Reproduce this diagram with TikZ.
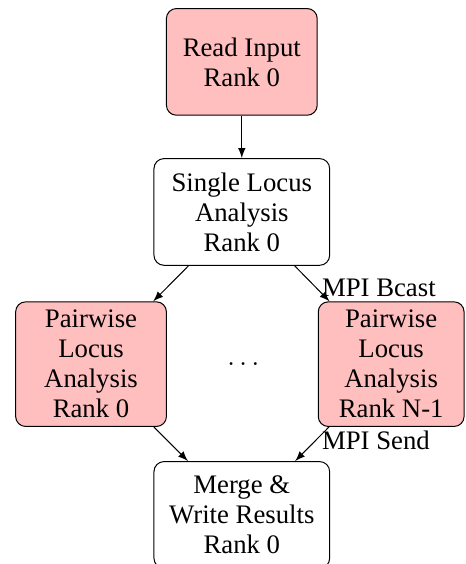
\documentclass[tikz,border=0pt]{standalone}
\usepackage{fontspec}
\setmainfont{Liberation Serif}
\usepackage{xcolor}
\usetikzlibrary{positioning,calc}

\tikzset{
    every node/.style={font=\fontsize{10.7pt}{12pt}\selectfont},
    stage/.style={draw, rounded corners, align=center, minimum width=2.12cm, minimum height=1.5cm},
    rankzero/.style={stage, fill=red!25},
    wide/.style={stage, minimum width=2.47cm}
}

\begin{document}
\begin{tikzpicture}
        \useasboundingbox (0,0) rectangle (6.54,-7.93);

        \node[rankzero] (read) at (3.40,-0.87) {Read Input\\Rank 0};
        \node[wide] (single) at (3.40,-2.98) {Single Locus\\Analysis\\Rank 0};
        \node[rankzero] (left) at (1.28,-5.12) {Pairwise\\Locus\\Analysis\\Rank 0};
        \node[rankzero, minimum width=2.05cm] (right) at (5.50,-5.12) {Pairwise\\Locus\\Analysis\\Rank N-1};
        \node (dots) at (3.42,-5.12) {$\dots$};
        \node[wide] (merge) at (3.40,-7.24) {Merge \&\\Write Results\\Rank 0};

        \draw[-latex] (read) -- (single);
        \draw[-latex] (single) -- (left);
        \draw[-latex] (single) -- (right);
        \draw[-latex] (left) -- (merge);
        \draw[-latex] (right) -- (merge);

        \node[anchor=south west, inner sep=1.5pt] (bcast) at (right.north west) {MPI Bcast};
        \node[anchor=north west, inner sep=1.5pt] (send) at (right.south west) {MPI Send};
    \end{tikzpicture}
\end{document}
